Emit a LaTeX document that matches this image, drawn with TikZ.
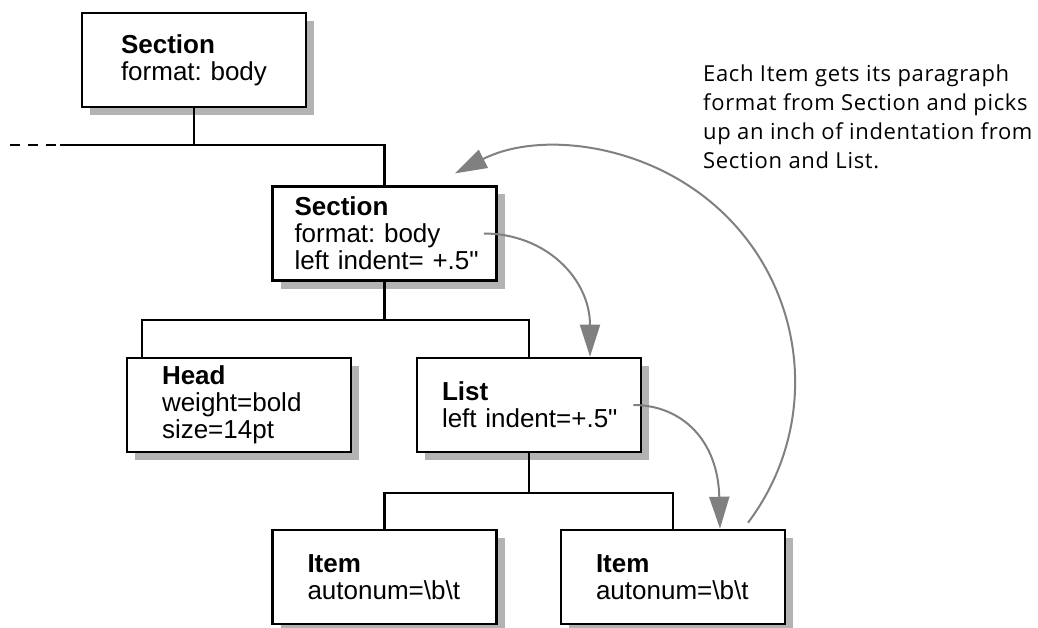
\documentclass[tikz,border=0pt]{standalone}
\usepackage{fontspec}
\setmainfont{Liberation Sans}[Ligatures=TeXOff]
\newfontfamily\notefont{Open Sans}[LetterSpace=3]
\usetikzlibrary{arrows.meta,shadows}
\definecolor{shade}{HTML}{B3B3B3}
\definecolor{flow}{HTML}{808080}
\tikzset{
  box/.style={draw, line width=2.6pt, fill=white, minimum width=224pt, minimum height=94pt,
    inner xsep=0pt, inner ysep=0pt, text width=224pt,
    execute at begin node={\raggedright\leftskip=#1\relax},
    font=\fontsize{26}{27}\selectfont,
    drop shadow={shadow xshift=8pt, shadow yshift=-8pt, fill=shade, opacity=1}},
  link/.style={line width=2.2pt},
  carry/.style={flow, line width=2pt, -{Triangle[length=32pt,width=20pt]}}
}
\begin{document}
\frenchspacing
\begin{tikzpicture}[x=1pt,y=1pt]
  \useasboundingbox (0,0) rectangle (1038,-628);
  \node[box=39pt] (top) at (194,-60) {\textbf{Section}\\format: body};
  \node[box=22pt] (sect) at (384.5,-233.5) {\textbf{Section}\\format: body\\left indent= +.5"};
  \node[box=35pt] (head) at (239,-405) {\textbf{Head}\\weight=bold\\size=14pt};
  \node[box=25pt] (list) at (529,-405) {\textbf{List}\\left indent=+.5"};
  \node[box=35pt] (itemA) at (384.5,-577) {\textbf{Item}\\autonum=\textbackslash b\textbackslash t};
  \node[box=35pt] (itemB) at (673,-577) {\textbf{Item}\\autonum=\textbackslash b\textbackslash t};
  \node[anchor=north west, inner sep=0pt, align=left, font=\notefont\fontsize{22}{29}\selectfont] (note) at (703,-65)
    {Each Item gets its paragraph\\format from Section and picks\\up an inch of indentation from\\Section and List.};
  \coordinate (busA) at (60,-145);
  \coordinate (dashend) at (10,-145);
  \draw[link] (top.south) |- (busA);
  \draw[link] (sect.north) |- (top.south |- busA);
  \draw[link, dash pattern=on 10pt off 8pt] (dashend) -- (busA);
  \draw[link] (sect.south) -- ++(0,-38) coordinate (busB);
  \draw[link] ([xshift=16pt]head.north west) |- (busB) -| (list.north);
  \draw[link] (list.south) -- ++(0,-40) coordinate (busC);
  \draw[link] (itemA.north) |- (busC) -| (itemB.north);
  \draw[carry] ([xshift=-14pt]sect.east) .. controls +(62,0) and +(0,78) .. ([xshift=61pt]list.north);
  \draw[carry] ([xshift=-9pt]list.east) .. controls +(48,0) and +(-2,89) .. ([xshift=47pt]itemB.north);
  \draw[carry] ([xshift=75pt,yshift=6pt]itemB.north) arc[start angle=-37, end angle=117, radius=234pt];
\end{tikzpicture}
\end{document}
